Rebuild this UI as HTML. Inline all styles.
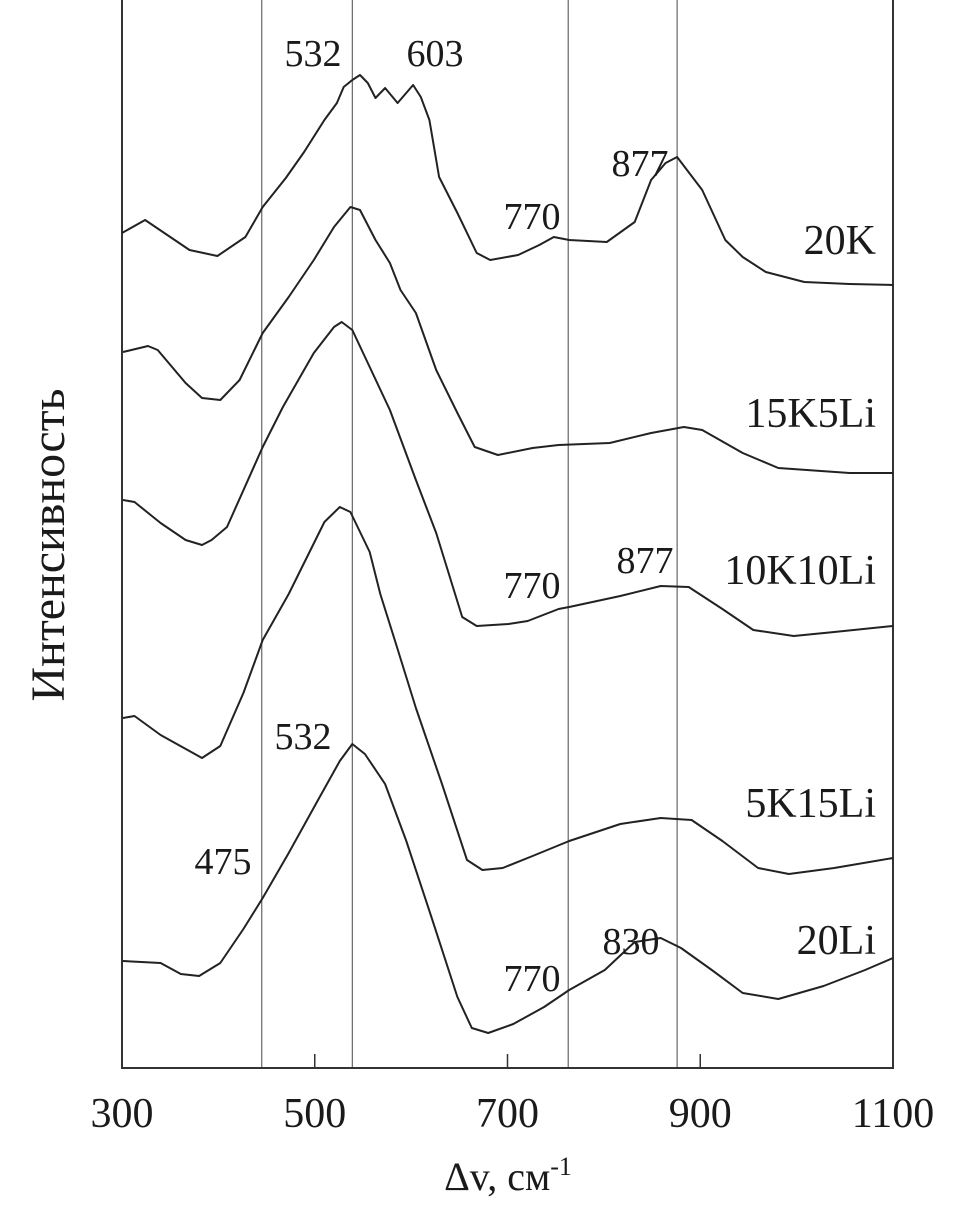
<!DOCTYPE html>
<html><head><meta charset="utf-8"><style>
html,body{margin:0;padding:0;background:#fff}
svg{display:block}
text{font-family:"Liberation Serif","DejaVu Serif",serif;fill:#1a1a1a}
</style></head><body>
<svg id="chart" width="980" height="1218" viewBox="0 0 980 1218" xmlns="http://www.w3.org/2000/svg">
<g id="plot"></g>
<g id="labels"></g>
</svg>
<script>
const xTicks = [300, 500, 700, 900, 1100];
const refLines = [445, 539, 763, 876];
const seriesNames = ["20K", "15K5Li", "10K10Li", "5K15Li", "20Li"];
const x20K = [300,324,370,399,428,446,470,489,510,523,530,539,547,555,563,573,586,602,610,619,629,648,668,682,711,733,748,764,803,832,849,864,876,902,926,944,968,1008,1055,1100];
const y20K = [835,848,818,812,831,861,890,916,948,965,981,988,993,985,970,980,965,983,971,948,891,855,815,808,813,823,831,828,826,846,888,905,911,878,828,811,796,786,784,783];
const x15K5Li = [301,327,337,366,383,402,422,446,473,499,520,537,547,563,578,589,605,626,648,666,690,726,753,806,849,883,902,944,981,1055,1100];
const y15K5Li = [716,722,718,685,670,668,688,735,771,808,841,861,858,828,805,778,755,698,655,621,613,620,623,625,635,641,638,615,600,595,595];
const x10K10Li = [301,313,340,366,383,393,409,446,467,499,520,528,539,557,578,605,626,653,668,701,721,753,764,817,859,888,923,955,997,1039,1100];
const y10K10Li = [568,566,545,528,523,528,541,621,661,715,741,746,738,701,658,588,535,451,442,444,447,459,461,472,482,481,459,438,432,436,442];
const x5K15Li = [301,313,340,383,402,426,446,473,510,526,537,557,568,584,605,632,658,674,695,726,764,817,859,891,923,960,992,1039,1100];
const y5K15Li = [350,352,333,310,322,375,428,474,546,561,556,516,474,425,360,284,208,198,200,212,227,244,250,248,227,200,194,200,210];
const x20Li = [301,340,361,380,402,426,446,473,504,526,539,552,573,595,621,648,663,680,706,738,764,801,832,859,880,912,944,981,1028,1071,1100];
const y20Li = [107,105,94,92,105,139,170,215,269,307,324,314,284,227,151,71,40,35,44,61,78,98,126,130,120,98,75,69,82,98,110];

const L = 122, R = 893, B = 1068, T = 0;
function sx(v){ return L + (v - 300) / 800 * (R - L); }
function sy(v){ return B - v / 1068 * (B - T); }
const NS = "http://www.w3.org/2000/svg";
const plot = document.getElementById('plot');
const labels = document.getElementById('labels');
function mk(tag, attrs, parent){ const e = document.createElementNS(NS, tag); for (const k in attrs) e.setAttribute(k, attrs[k]); parent.appendChild(e); return e; }

refLines.forEach(v => {
  const l = mk('line', {x1: sx(v), x2: sx(v), y1: T, y2: B, stroke: '#666', 'stroke-width': 1.2}, plot);
  
  
});
const frame = mk('path', {d: `M${L},${T} L${L},${B} L${R},${B} L${R},${T}`, fill: 'none', stroke: '#333', 'stroke-width': 2}, plot);



xTicks.forEach(v => {
  if (v > 300 && v < 1100) {
    const t = mk('line', {x1: sx(v), x2: sx(v), y1: B, y2: B - 14, stroke: '#333', 'stroke-width': 1.5}, plot);
    
    
  }
  const tl = mk('text', {x: sx(v), y: 1127, 'text-anchor': 'middle', 'font-size': 42}, labels);
  tl.textContent = v;
  
  
});

const xs = [x20K, x15K5Li, x10K10Li, x5K15Li, x20Li];
const ys = [y20K, y15K5Li, y10K10Li, y5K15Li, y20Li];
xs.forEach((xa, i) => {
  const d = xa.map((v, j) => (j ? 'L' : 'M') + sx(v).toFixed(1) + ',' + sy(ys[i][j]).toFixed(1)).join(' ');
  const p = mk('path', {d: d, fill: 'none', stroke: '#222', 'stroke-width': 2, 'stroke-linejoin': 'round'}, plot);
  
  
});
</script>
<svg style="position:absolute;left:0;top:0" width="980" height="1218">
<g font-size="42" text-anchor="end">
<text x="876" y="254">20K</text>
<text x="876" y="427">15K5Li</text>
<text x="876" y="584">10K10Li</text>
<text x="876" y="817">5K15Li</text>
<text x="876" y="954">20Li</text>
</g>
<g font-size="38" text-anchor="middle">
<text x="313" y="66">532</text>
<text x="435" y="66">603</text>
<text x="640" y="176">877</text>
<text x="532" y="229">770</text>
<text x="645" y="573">877</text>
<text x="532" y="598">770</text>
<text x="303" y="749">532</text>
<text x="223" y="874">475</text>
<text x="532" y="991">770</text>
<text x="631" y="954">830</text>
</g>
<text x="508" y="1190" text-anchor="middle" font-size="40">Δv, см<tspan font-size="26" dy="-15">-1</tspan></text>
<text transform="translate(64,545) rotate(-90)" text-anchor="middle" font-size="48">Интенсивность</text>
</svg>
</body></html>
